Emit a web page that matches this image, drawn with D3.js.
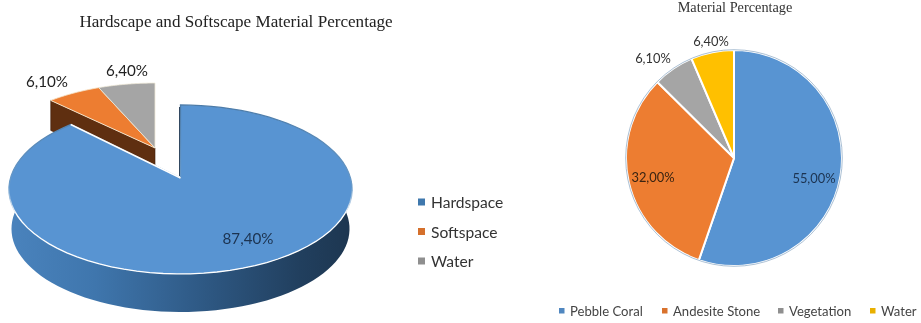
<!DOCTYPE html>
<html><head><meta charset="utf-8">
<script src="https://cdn.jsdelivr.net/npm/d3@7/dist/d3.min.js"></script>
<style>html,body{margin:0;padding:0;background:#fff}svg{display:block;filter:blur(0.4px)}</style></head>
<body><svg id="c" width="921" height="323"></svg>
<script>
// ---- data ----
const leftTitle = "Hardscape and Softscape Material Percentage";
const leftCategories = ["Hardspace", "Softspace", "Water"];
const leftValues = [87.4, 6.1, 6.4];
const leftColors = ["#5894d2", "#ed7d31", "#a5a5a5"];
const leftLegendColors = ["#3f78ad", "#d5702c", "#8f8f8f"];
const rightTitle = "Material Percentage";
const rightCategories = ["Pebble Coral", "Andesite Stone", "Vegetation", "Water"];
const rightValues = [55, 32, 6.1, 6.4];
const rightColors = ["#5894d2", "#ed7d31", "#a5a5a5", "#ffc000"];
const fmt = v => v.toFixed(2).replace(".", ",") + "%";

// ---- layout ----
const svg = d3.select("#c");
const labelFont = "Lato, 'Open Sans', sans-serif";
const serif = "'Liberation Serif', serif";
const leftLabelPos = [[248, 238, "#1c3350"], [47, 81, "#222"], [127, 70, "#222"]];
const rightLabelPos = [[814, 178, "#1c3350"], [653, 177, "#3a2412"], [653, 58, "#333"], [711, 41, "#333"]];

const defs = svg.append("defs");
const sideGrad = defs.append("linearGradient").attr("id", "side").attr("gradientUnits", "userSpaceOnUse")
  .attr("x1", 9).attr("x2", 352).attr("y1", 0).attr("y2", 0);
[[0, "#4a83bd"], [0.25, "#3f76ad"], [0.55, "#2f5a86"], [0.85, "#213f5e"], [1, "#1d3650"]]
  .forEach(([o, c]) => sideGrad.append("stop").attr("offset", o).attr("stop-color", c));
const rimGrad = defs.append("linearGradient").attr("id", "rim").attr("gradientUnits", "userSpaceOnUse")
  .attr("x1", 0).attr("x2", 0).attr("y1", 105).attr("y2", 215);
[[0, "#4c7ba8"], [0.75, "#6a9ccb"], [1, "#ffffff"]]
  .forEach(([o, c]) => rimGrad.append("stop").attr("offset", o).attr("stop-color", c));

// ---- left: perspective pie ----
const pie = d3.pie().sort(null).startAngle(0).endAngle(2 * Math.PI);
const leftArcs = pie(leftValues);
const k = 0.136, A = 170, B = 82.9;
const project = (apex, sx, sy, dy = 0, sc = 1) => a => {
  const X = Math.sin(a), Y = Math.cos(a), d = 1 + k * Y;
  return [apex[0] + sc * sx * A * X / d, apex[1] + dy - sc * sy * B * Y / d];
};
const samples = (a0, a1) => d3.range(0, 81).map(i => a0 + (a1 - a0) * i / 80);
const line = d3.line();
const wedge = (arc, apex, sx, sy) =>
  line([apex, ...samples(arc.startAngle, arc.endAngle).map(project(apex, sx, sy))]) + "Z";

const blueApex = [180.5, 178], farApex = [155, 148];
const depth = 39.5;
const blue = leftArcs[0], orange = leftArcs[1], gray = leftArcs[2];

// exploded slices (orange side wall first)
const oEnd = project(farApex, .95, .89)(orange.startAngle);
svg.append("path").attr("fill", "#5f2f10").attr("stroke", "#3c1c08").attr("stroke-width", .6)
  .attr("d", line([oEnd, farApex, [farApex[0], farApex[1] + 30], [oEnd[0], oEnd[1] + 30]]) + "Z");
svg.append("path").attr("fill", leftColors[1]).attr("stroke", "#f5e3c8").attr("stroke-width", 1)
  .attr("stroke-linejoin", "round").attr("d", wedge(orange, farApex, .95, .89));
svg.append("path").attr("fill", leftColors[2]).attr("stroke", "#f0ead8").attr("stroke-width", .8)
  .attr("stroke-linejoin", "round").attr("d", wedge(gray, farApex, .95, .89));

// blue: extruded side, then top
svg.append("path").attr("fill", "url(#side)")
  .attr("d", line([...samples(1.2, 5).map(project(blueApex, 1, 1)),
                   ...samples(5, 1.2).map(project(blueApex, 1, 1, depth, .985))]) + "Z");
svg.append("path").attr("fill", leftColors[0]).attr("stroke", "url(#rim)").attr("stroke-width", 1.3)
  .attr("d", wedge(blue, blueApex, 1, 1));
svg.append("path").attr("fill", "none").attr("stroke", "#ffffff").attr("stroke-width", 1.6)
  .attr("d", line([project(blueApex, 1, 1)(blue.endAngle), blueApex]));
svg.append("path").attr("fill", "none").attr("stroke", "#1d3650").attr("stroke-width", .9)
  .attr("d", line([[blueApex[0] - 1, 107], [blueApex[0] - 1, blueApex[1] - 2]]));

svg.append("text").text(leftTitle).attr("x", 236).attr("y", 27).attr("text-anchor", "middle")
  .attr("font-family", serif).attr("font-size", 17.1).attr("fill", "#222");

leftValues.forEach((v, i) => {
  const [x, y, c] = leftLabelPos[i];
  svg.append("text").text(fmt(v)).attr("x", x).attr("y", y).attr("text-anchor", "middle")
    .attr("dominant-baseline", "central").attr("font-family", labelFont).attr("font-size", 15.2).attr("fill", c);
});
const leftLegendY = d3.scalePoint().domain(leftCategories).range([202, 261]);
leftCategories.forEach((n, i) => {
  const y = leftLegendY(n);
  svg.append("rect").attr("x", 418).attr("y", y - 3.5).attr("width", 7).attr("height", 7).attr("fill", leftLegendColors[i]);
  svg.append("text").text(n).attr("x", 431).attr("y", y).attr("dominant-baseline", "central")
    .attr("font-family", labelFont).attr("font-size", 15.6).attr("fill", "#333");
});

// ---- right: flat pie ----
const arc = d3.arc().innerRadius(0).outerRadius(108);
const g = svg.append("g").attr("transform", "translate(734,158)");
g.selectAll("path.s").data(pie(rightValues)).join("path").attr("d", arc)
  .attr("fill", (d, i) => rightColors[i]).attr("stroke", "#fff").attr("stroke-width", 2);
g.append("circle").attr("r", 108.3).attr("fill", "none").attr("stroke", "#7b9cbc").attr("stroke-width", .8).attr("opacity", .8);

svg.append("text").text(rightTitle).attr("x", 735).attr("y", 12).attr("text-anchor", "middle")
  .attr("font-family", serif).attr("font-size", 14.3).attr("fill", "#333");
rightValues.forEach((v, i) => {
  const [x, y, c] = rightLabelPos[i];
  svg.append("text").text(fmt(v)).attr("x", x).attr("y", y).attr("text-anchor", "middle")
    .attr("dominant-baseline", "central").attr("font-family", labelFont).attr("font-size", 12.9).attr("fill", c);
});
const rightLegendX = [559, 662, 778, 870];
rightCategories.forEach((n, i) => {
  svg.append("rect").attr("x", rightLegendX[i]).attr("y", 308).attr("width", 5.5).attr("height", 5.5).attr("fill", i === 2 ? "#8f8f8f" : d3.color(rightColors[i]).darker(.25));
  svg.append("text").text(n).attr("x", rightLegendX[i] + 11).attr("y", 311).attr("dominant-baseline", "central")
    .attr("font-family", labelFont).attr("font-size", 13.1).attr("fill", "#444");
});
</script></body></html>
